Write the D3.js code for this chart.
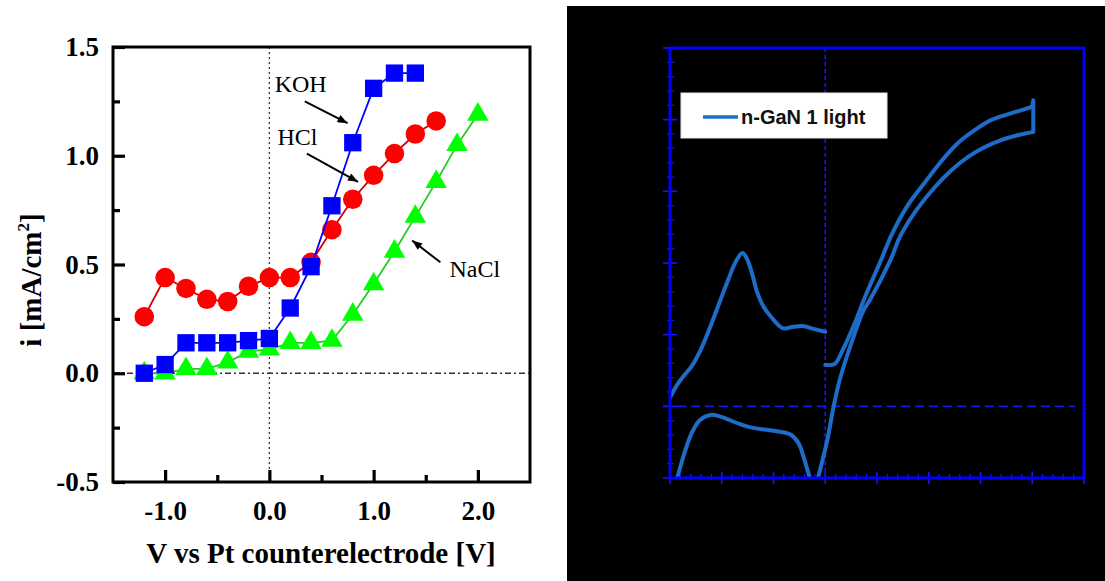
<!DOCTYPE html>
<html><head><meta charset="utf-8">
<script src="https://cdn.jsdelivr.net/npm/d3@7"></script>
<style>html,body{margin:0;padding:0;background:#fff;} svg{display:block;}</style>
</head><body>
<svg id="fig" width="1105" height="581"></svg>
<script>
// ---- Left panel: current density vs bias in three electrolytes ----
const biasV       = [-1.2,-1.0,-0.8,-0.6,-0.4,-0.2,0.0,0.2,0.4,0.6,0.8,1.0,1.2,1.4,1.6,1.8,2.0];
const hclCurrent  = [0.26,0.44,0.39,0.34,0.33,0.40,0.44,0.44,0.51,0.66,0.80,0.91,1.01,1.10,1.16];
const kohCurrent  = [0.00,0.04,0.14,0.14,0.14,0.15,0.16,0.30,0.49,0.77,1.06,1.31,1.38,1.38];
const naclCurrent = [0.00,0.00,0.02,0.02,0.05,0.10,0.11,0.14,0.14,0.15,0.27,0.41,0.56,0.72,0.88,1.05,1.19];
const leftXTicks = [-1.0, 0.0, 1.0, 2.0];
const leftXMinor = [-0.5, 0.5, 1.5];
const leftYTicks = [-0.5, 0.0, 0.5, 1.0, 1.5];
const leftYMinor = [-0.25, 0.25, 0.75, 1.25];

// ---- Right panel: cyclic voltammogram, n-GaN under illumination ----
const sweepA = [[-1.50,0.12],[-1.44,0.28],[-1.37,0.42],[-1.29,0.56],[-1.21,0.77],[-1.13,1.04],[-1.05,1.34],
  [-0.95,1.72],[-0.86,2.03],[-0.80,2.14],[-0.76,2.07],[-0.71,1.87],[-0.66,1.60],[-0.60,1.40],[-0.53,1.26],
  [-0.41,1.09],[-0.31,1.11],[-0.22,1.12],[-0.11,1.08],[0.00,1.04]];
const sweepB = [[-1.43,-1.00],[-1.36,-0.65],[-1.29,-0.37],[-1.21,-0.19],[-1.11,-0.12],[-1.02,-0.14],
  [-0.82,-0.25],[-0.70,-0.30],[-0.50,-0.34],[-0.34,-0.39],[-0.26,-0.51],[-0.20,-0.75],[-0.15,-1.00]];
const sweepC = [[0.00,0.58],[0.09,0.59],[0.17,0.79],[0.27,1.11],[0.40,1.58],[0.53,2.01],[0.65,2.42],
  [0.80,2.81],[0.96,3.12],[1.11,3.40],[1.28,3.67],[1.45,3.86],[1.61,4.00],[1.80,4.09],[2.00,4.18]];
const sweepTurn = [[2.00,4.18],[2.01,4.27],[2.01,3.83]];
const sweepD = [[2.01,3.83],[1.71,3.72],[1.38,3.48],[1.06,3.06],[0.74,2.42],[0.63,2.04],[0.43,1.48],
  [0.37,1.34],[0.24,0.83],[0.14,0.37],[0.08,-0.01],[0.02,-0.47],[-0.07,-1.00]];
const legendLabel = "n-GaN 1 light";

const svg = d3.select("#fig");
const serif = "'Liberation Serif','Times New Roman',serif";
const sans = "'Liberation Sans',Arial,sans-serif";

// =================== left panel ===================
const L = {left:113, right:530, top:47, bottom:482};
const lx = d3.scaleLinear().domain([-1.5, 2.5]).range([L.left, L.right]);
const ly = d3.scaleLinear().domain([-0.5, 1.5]).range([L.bottom, L.top]);
const left = svg.append("g");

// zero reference lines
left.append("line").attr("x1", lx(0)).attr("x2", lx(0)).attr("y1", L.top).attr("y2", L.bottom)
  .attr("stroke", "#333").attr("stroke-width", 1.3).attr("stroke-dasharray", "2,3");
left.append("line").attr("x1", L.left).attr("x2", L.right).attr("y1", ly(0)).attr("y2", ly(0))
  .attr("stroke", "#333").attr("stroke-width", 1.3).attr("stroke-dasharray", "6,3,2,3");

function styleAxis(g) {
  g.select(".domain").remove();
  g.selectAll(".tick line").attr("stroke", "#000").attr("stroke-width", 3.2);
  g.selectAll(".tick text").attr("fill", "#000").attr("font-family", serif)
    .attr("font-weight", "bold").attr("font-size", 27);
}
const fmt = d => d.toFixed(1);
left.append("g").attr("transform", `translate(0,${L.bottom})`)
  .call(d3.axisBottom(lx).tickValues(leftXTicks).tickSize(-12).tickPadding(19).tickFormat(fmt)).call(styleAxis);
left.append("g").attr("transform", `translate(0,${L.bottom})`)
  .call(d3.axisBottom(lx).tickValues(leftXMinor).tickSize(-7).tickFormat("")).call(styleAxis);
left.append("g").attr("transform", `translate(${L.left},0)`)
  .call(d3.axisLeft(ly).tickValues(leftYTicks).tickSize(-12).tickPadding(14).tickFormat(fmt)).call(styleAxis);
left.append("g").attr("transform", `translate(${L.left},0)`)
  .call(d3.axisLeft(ly).tickValues(leftYMinor).tickSize(-7).tickFormat("")).call(styleAxis);

function drawSeries(vals, fill, lineColor, symbol, size) {
  const pts = vals.map((v, i) => [biasV[i], v]);
  const g = left.append("g");
  g.append("path").attr("d", d3.line().x(d => lx(d[0])).y(d => ly(d[1]))(pts))
    .attr("fill", "none").attr("stroke", lineColor).attr("stroke-width", 1.8);
  g.selectAll(null).data(pts).join("path")
    .attr("transform", d => `translate(${lx(d[0])},${ly(d[1])})`)
    .attr("d", d3.symbol(symbol, size)()).attr("fill", fill);
}
drawSeries(naclCurrent, "#00ff00", "#22cc22", d3.symbolTriangle, 200);
drawSeries(hclCurrent, "#ff0000", "#d00000", d3.symbolCircle, 300);
drawSeries(kohCurrent, "#0000ff", "#0000ff", d3.symbolSquare, 300);

// frame
left.append("rect").attr("x", L.left).attr("y", L.top).attr("width", L.right - L.left).attr("height", L.bottom - L.top)
  .attr("fill", "none").attr("stroke", "#000").attr("stroke-width", 3);

// electrolyte annotations
svg.append("defs").append("marker").attr("id", "arrowHead").attr("viewBox", "0 0 10 8")
  .attr("refX", 10).attr("refY", 4).attr("markerWidth", 11).attr("markerHeight", 8)
  .attr("markerUnits", "userSpaceOnUse").attr("orient", "auto")
  .append("path").attr("d", "M0,0L10,4L0,8Z").attr("fill", "#000");
const notes = [
  {text:"KOH",  tx:0.30, ty:1.33, from:[0.34,1.25], to:[0.75,1.15]},
  {text:"HCl",  tx:0.27, ty:1.09, from:[0.36,1.01], to:[0.85,0.88]},
  {text:"NaCl", tx:1.97, ty:0.48, from:[1.64,0.51], to:[1.37,0.61]}
];
notes.forEach(n => {
  left.append("text").attr("x", lx(n.tx)).attr("y", ly(n.ty)).attr("dy", "0.35em")
    .attr("text-anchor", "middle").attr("font-family", serif).attr("font-size", 24).text(n.text);
  left.append("line").attr("x1", lx(n.from[0])).attr("y1", ly(n.from[1]))
    .attr("x2", lx(n.to[0])).attr("y2", ly(n.to[1]))
    .attr("stroke", "#000").attr("stroke-width", 2).attr("marker-end", "url(#arrowHead)");
});

// axis titles
left.append("text").attr("x", 321).attr("y", 563).attr("text-anchor", "middle")
  .attr("font-family", serif).attr("font-weight", "bold").attr("font-size", 29)
  .text("V vs Pt counterelectrode [V]");
const yt = left.append("text").attr("transform", "translate(41,280) rotate(-90)").attr("text-anchor", "middle")
  .attr("font-family", serif).attr("font-weight", "bold").attr("font-size", 29);
yt.append("tspan").text("i [mA/cm");
yt.append("tspan").attr("font-size", 17).attr("dy", -12).text("2");
yt.append("tspan").attr("dy", 12).text("]");

// =================== right panel ===================
svg.append("rect").attr("x", 567).attr("y", 6).attr("width", 538).attr("height", 575).attr("fill", "#000");
const R = {left:670, right:1084, top:48, bottom:478};
const rx = d3.scaleLinear().domain([-1.5, 2.5]).range([R.left, R.right]);
const ry = d3.scaleLinear().domain([-1, 5]).range([R.bottom, R.top]);
const right = svg.append("g");
const axisBlue = "#1414ff";

// zero lines
right.append("line").attr("x1", rx(0)).attr("x2", rx(0)).attr("y1", R.top).attr("y2", R.bottom)
  .attr("stroke", axisBlue).attr("stroke-width", 1.6).attr("stroke-dasharray", "4,3");
right.append("line").attr("x1", R.left - 7).attr("x2", R.right - 9).attr("y1", ry(0)).attr("y2", ry(0))
  .attr("stroke", axisBlue).attr("stroke-width", 1.6).attr("stroke-dasharray", "9,5");

// ticks
const yMajor = d3.range(-1, 5.001, 1), yMinor = d3.range(-1, 5.001, 0.2);
const xMajor = d3.range(-1.5, 2.501, 0.5), xMinor = d3.range(-1.5, 2.501, 0.1);
right.selectAll(null).data(yMinor).join("line")
  .attr("x1", R.left - 3).attr("x2", R.left + 4).attr("y1", d => ry(d)).attr("y2", d => ry(d))
  .attr("stroke", axisBlue).attr("stroke-width", 1.2);
right.selectAll(null).data(yMajor).join("line")
  .attr("x1", R.left - 7).attr("x2", R.left + 7).attr("y1", d => ry(d)).attr("y2", d => ry(d))
  .attr("stroke", axisBlue).attr("stroke-width", 1.6);
right.selectAll(null).data(xMinor).join("line")
  .attr("y1", R.bottom - 4).attr("y2", R.bottom + 2).attr("x1", d => rx(d)).attr("x2", d => rx(d))
  .attr("stroke", axisBlue).attr("stroke-width", 1.2);
right.selectAll(null).data(xMajor).join("line")
  .attr("y1", R.bottom - 6).attr("y2", R.bottom + 6).attr("x1", d => rx(d)).attr("x2", d => rx(d))
  .attr("stroke", axisBlue).attr("stroke-width", 1.6);

// voltammogram
svg.select("defs").append("clipPath").attr("id", "cvClip").append("rect")
  .attr("x", R.left).attr("y", R.top).attr("width", R.right - R.left).attr("height", R.bottom - R.top);
const cvColor = "#1c6cc8";
const smooth = d3.line().x(d => rx(d[0])).y(d => ry(d[1])).curve(d3.curveCatmullRom.alpha(0.5));
const straight = d3.line().x(d => rx(d[0])).y(d => ry(d[1]));
const cv = right.append("g").attr("clip-path", "url(#cvClip)");
[sweepA, sweepB, sweepC, sweepD].forEach(s => {
  cv.append("path").attr("d", smooth(s)).attr("fill", "none").attr("stroke", cvColor)
    .attr("stroke-width", 4).attr("stroke-linecap", "round").attr("stroke-linejoin", "round");
});
cv.append("path").attr("d", straight(sweepTurn)).attr("fill", "none").attr("stroke", cvColor)
  .attr("stroke-width", 4).attr("stroke-linecap", "round").attr("stroke-linejoin", "round");

// frame
right.append("rect").attr("x", R.left).attr("y", R.top).attr("width", R.right - R.left).attr("height", R.bottom - R.top)
  .attr("fill", "none").attr("stroke", "#0000ff").attr("stroke-width", 3);

// legend
const lg = right.append("g").attr("transform", "translate(681,93)");
lg.append("rect").attr("width", 206).attr("height", 45).attr("fill", "#fff").attr("stroke", "#e6e6f0").attr("stroke-width", 1);
lg.append("line").attr("x1", 22).attr("x2", 57).attr("y1", 24).attr("y2", 24).attr("stroke", cvColor).attr("stroke-width", 3.5);
lg.append("text").attr("x", 60).attr("y", 31).attr("font-family", sans).attr("font-weight", "bold")
  .attr("font-size", 20).attr("fill", "#111").text(legendLabel);
</script>
</body></html>
